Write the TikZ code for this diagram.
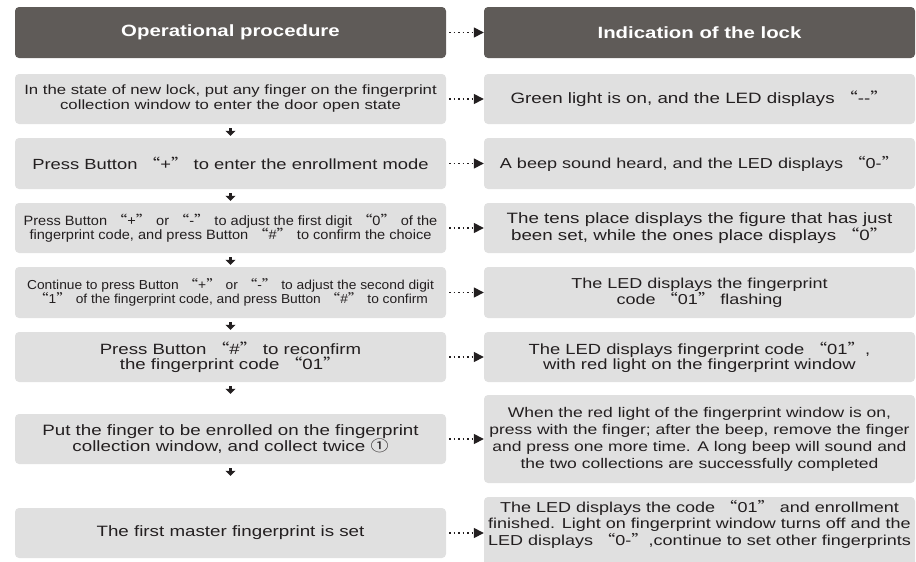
\documentclass[tikz,border=0pt]{standalone}
\usepackage{fontspec}
\setmainfont[FakeStretch=1.25]{Liberation Sans}
\newfontfamily\cjk[FakeStretch=1.2]{Noto Sans CJK SC}
\newfontfamily\midfont[FakeStretch=1.08]{Liberation Sans}
\newfontfamily\narrowfont[FakeStretch=1.06]{Liberation Sans}
\usetikzlibrary{arrows.meta}
\newcommand\oq{{\cjk “}}
\newcommand\cq{{\cjk ”}}
\newcommand\fsz[2]{\fontsize{#1}{#2}\selectfont}
\definecolor{hdrgray}{HTML}{5F5B58}
\definecolor{boxgray}{HTML}{E0E0E0}
\definecolor{txt}{HTML}{231F20}
\tikzset{
  hdr/.style={fill=hdrgray, rounded corners=4pt, text=white, minimum width=431pt, minimum height=51pt, inner sep=0pt, font=\bfseries\fsz{16.3}{18}},
  box/.style={fill=boxgray, rounded corners=4pt, text=txt, minimum width=431pt, inner sep=0pt, align=center},
  dotarr/.style={draw=txt, line width=1.5pt, dash pattern=on 1.6pt off 2.9pt, shorten <=3pt, -{Triangle[length=10pt,width=10pt]}},
  darr/.style={draw=txt, line width=3pt, shorten <=4pt, shorten >=2pt, -{Triangle[length=5pt,width=10pt]}},
}
\begin{document}
\begin{tikzpicture}[x=1pt,y=-1pt]
\useasboundingbox (0,0) rectangle (916,562);
% headers
\node[hdr] (L0) at (230.5,32.5) {Operational procedure};
\node[hdr] (R0) at (699.5,32.5) {Indication of the lock};
% left column
\node[box, minimum height=50pt, font=\fsz{13.4}{15}] (L1) at (230.5,99) {In the state of new lock, put any finger on the fingerprint\\collection window to enter the door open state};
\node[box, minimum height=51pt, font=\fsz{14.7}{16}] (L2) at (230.5,163.5) {Press Button \oq+\cq\ to enter the enrollment mode};
\node[box, minimum height=50pt, font=\midfont\fsz{13.5}{14.5}] (L3) at (230.5,228) {Press Button \oq+\cq\ or \oq-\cq\ to adjust the first digit \oq0\cq\ of the\\fingerprint code, and press Button \oq\#\cq\ to confirm the choice};
\node[box, minimum height=51pt, font=\narrowfont\fsz{13}{14.5}] (L4) at (230.5,292.5) {Continue to press Button \oq+\cq\ or \oq-\cq\ to adjust the second digit\\\oq1\cq\ of the fingerprint code, and press Button \oq\#\cq\ to confirm};
\node[box, minimum height=50pt, font=\fsz{14.9}{15}] (L5) at (230.5,357) {Press Button \oq\#\cq\ to reconfirm\\the fingerprint code \oq01\cq};
\node[box, minimum height=50pt, font=\fsz{15}{15}] (L6) at (230.5,439) {Put the finger to be enrolled on the fingerprint\\collection window, and collect twice {\cjk ①}};
\node[box, minimum height=50pt, font=\fsz{15}{16}] (L7) at (230.5,533) {The first master fingerprint is set};
% right column
\node[box, minimum height=50pt, font=\fsz{15}{16}] (R1) at (699.5,99) {Green light is on, and the LED displays \oq-{}-\cq};
\node[box, minimum height=51pt, font=\fsz{14.45}{16}] (R2) at (699.5,163.5) {A beep sound heard, and the LED displays \oq0-\cq};
\node[box, minimum height=50pt, font=\fsz{15}{15}] (R3) at (699.5,228) {The tens place displays the figure that has just\\been set, while the ones place displays \oq0\cq};
\node[box, minimum height=51pt, font=\fsz{14.4}{15}] (R4) at (699.5,292.5) {The LED displays the fingerprint\\code \oq01\cq\ flashing};
\node[box, minimum height=50pt, font=\fsz{14.7}{15}] (R5) at (699.5,357) {The LED displays fingerprint code \oq01\cq,\\with red light on the fingerprint window};
\node[box, minimum height=88pt, font=\fsz{14}{17}] (R6) at (699.5,439) {When the red light of the fingerprint window is on,\\press with the finger; after the beep, remove the finger\\and press one more time. A long beep will sound and\\the two collections are successfully completed};
\node[box, minimum height=71pt] (R7) at (699.5,532.5) {};
\node[text=txt, align=center, inner sep=0pt, font=\fsz{14.4}{16.5}] (R7t) at (699.5,524) {The LED displays the code \oq01\cq\ and enrollment\\finished. Light on fingerprint window turns off and the\\LED displays \oq0-\cq,continue to set other fingerprints};
% horizontal dotted arrows
\foreach \i in {0,...,7} {
  \draw[dotarr] (L\i.east) -- (L\i.east -| R\i.west);
}
% vertical arrows
\foreach \i/\j in {1/2,2/3,3/4,4/5} {
  \draw[darr] (L\i.south) -- (L\j.north);
}
\draw[darr, shorten >=20pt] (L5.south) -- (L6.north);
\draw[darr, shorten >=32pt] (L6.south) -- (L7.north);
\end{tikzpicture}
\end{document}
